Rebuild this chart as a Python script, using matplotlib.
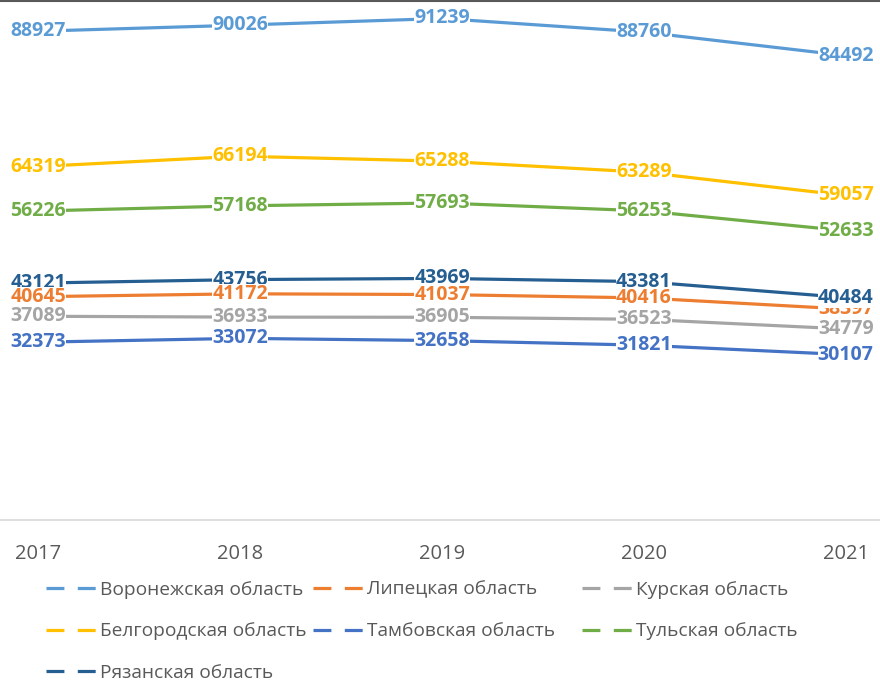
import matplotlib.pyplot as plt
from matplotlib.lines import Line2D

years = ["2017", "2018", "2019", "2020", "2021"]

voronezh = [88927, 90026, 91239, 88760, 84492]
lipetsk = [40645, 41172, 41037, 40416, 38397]
kursk = [37089, 36933, 36905, 36523, 34779]
belgorod = [64319, 66194, 65288, 63289, 59057]
tambov = [32373, 33072, 32658, 31821, 30107]
tula = [56226, 57168, 57693, 56253, 52633]
ryazan = [43121, 43756, 43969, 43381, 40484]

names = ["Воронежская область", "Липецкая область", "Курская область",
         "Белгородская область", "Тамбовская область", "Тульская область",
         "Рязанская область"]
colors = ["#5B9BD5", "#ED7D31", "#A5A5A5", "#FFC000", "#4472C4", "#70AD47", "#255E91"]
series = [voronezh, lipetsk, kursk, belgorod, tambov, tula, ryazan]

plt.rcParams['font.family'] = ['Open Sans', 'DejaVu Sans']

fig = plt.figure(figsize=(8.8, 6.8), dpi=100)
ax = fig.add_axes([0, 0.235, 1, 0.765])

x = list(range(len(years)))
handles = []
for i, (name, vals, c) in enumerate(zip(names, series, colors)):
    ax.plot(x, vals, color=c, lw=2.3, solid_capstyle="round", zorder=2)
    for xi, v in zip(x, vals):
        z = 10 + i
        # in the original the Lipetsk labels sit over the Ryazan ones, except the last
        if i == 1 and xi < 4:
            z = 30
        ax.text(xi, v, str(v), ha="center", va="center", color=c,
                fontsize=14, fontweight="bold", zorder=z,
                bbox=dict(boxstyle="square,pad=0.0", fc="white", ec="none"))
    handles.append(Line2D([0], [0], color=c, lw=2.3, dashes=(5.6, 4.2)))

ax.set_xlim(-0.19, 4.17)
ax.set_ylim(0, 94600)
ax.set_yticks([])
ax.set_xticks(x)
ax.set_xticklabels(years, fontsize=14.5, color="#595959")
ax.tick_params(axis="x", length=0, pad=17)
for s in ["top", "right", "left"]:
    ax.spines[s].set_visible(False)
ax.spines["bottom"].set_color("#D9D9D9")
ax.spines["bottom"].set_linewidth(1.2)

# three legend columns placed like the original, row by row
columns = [[0, 3, 6], [1, 4], [2, 5]]
col_x = [46, 313, 582]
for idx, cx in zip(columns, col_x):
    leg = fig.legend([handles[k] for k in idx], [names[k] for k in idx],
                     ncol=1, loc="upper left", bbox_to_anchor=(cx / 880, 0.146),
                     frameon=False, fontsize=13.8, labelcolor="#595959",
                     handlelength=2.6, handletextpad=0.2,
                     labelspacing=1.23, borderaxespad=0, borderpad=0)

fig.add_artist(Line2D([0, 1], [0.999, 0.999], color="#595959", lw=1.5,
                      transform=fig.transFigure))

fig.savefig("out.png", dpi=100)
